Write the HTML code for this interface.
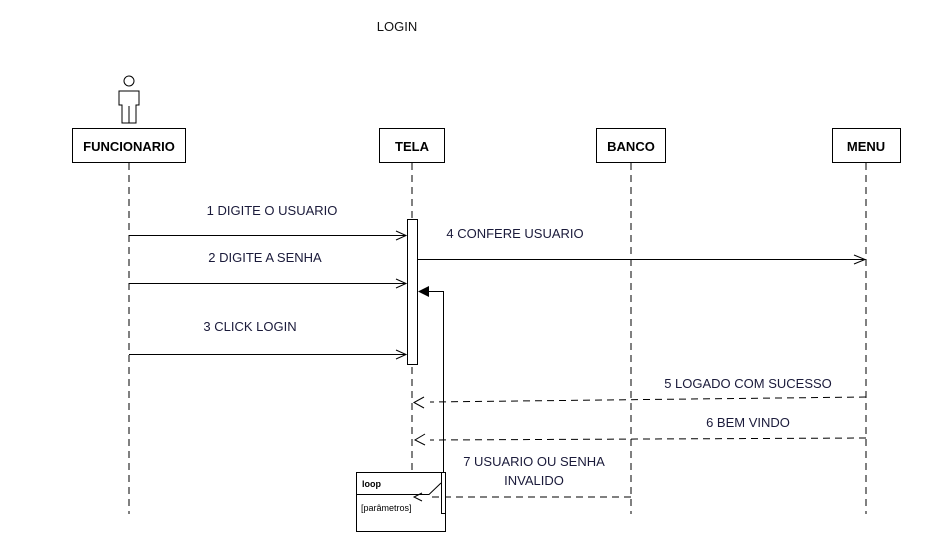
<!DOCTYPE html>
<html><head><meta charset="utf-8"><style>
html,body{margin:0;padding:0;background:#fff;width:947px;height:556px;overflow:hidden}
svg{display:block}
text{font-family:"Liberation Sans",sans-serif;}
</style></head><body>
<svg width="947" height="556" viewBox="0 0 947 556" xmlns="http://www.w3.org/2000/svg">
<text x="397" y="31" font-size="13" text-anchor="middle" fill="#111">LOGIN</text>
<!-- actor -->
<g fill="#fff" stroke="#000" stroke-width="1">
<circle cx="129" cy="81" r="5"/>
<path d="M119 91 h20 v14 h-3 v18 h-14 v-18 h-3 z"/>
<line x1="129" y1="106" x2="129" y2="123"/>
<line x1="122" y1="105" x2="122" y2="106"/>
</g>
<!-- lifelines -->
<g stroke="#000" stroke-width="1" stroke-dasharray="7,5">
<line x1="129" y1="163" x2="129" y2="514"/>
<line x1="412" y1="163" x2="412" y2="472"/>
<line x1="631" y1="163" x2="631" y2="514"/>
<line x1="866" y1="163" x2="866" y2="514"/>
</g>
<!-- boxes -->
<g fill="#fff" stroke="#000" stroke-width="1">
<rect x="72.5" y="128.5" width="113" height="34"/>
<rect x="379.5" y="128.5" width="65" height="34"/>
<rect x="596.5" y="128.5" width="69" height="34"/>
<rect x="832.5" y="128.5" width="68" height="34"/>
</g>
<g font-size="13" font-weight="bold" text-anchor="middle" fill="#000">
<text x="129" y="151">FUNCIONARIO</text>
<text x="412" y="151">TELA</text>
<text x="631" y="151">BANCO</text>
<text x="866" y="151">MENU</text>
</g>
<!-- activation -->
<rect x="407.5" y="219.5" width="10" height="145" fill="#fff" stroke="#000"/>
<!-- sync messages -->
<g stroke="#000" stroke-width="1" fill="none">
<line x1="129" y1="235.5" x2="406" y2="235.5"/><path d="M396 231 L406 235.5 L396 240"/>
<line x1="129" y1="283.5" x2="406" y2="283.5"/><path d="M396 279 L406 283.5 L396 288"/>
<line x1="129" y1="354.5" x2="406" y2="354.5"/><path d="M396 350 L406 354.5 L396 359"/>
<line x1="418" y1="259.5" x2="865" y2="259.5"/><path d="M854 255 L865 259.5 L854 264"/>
<polyline points="443.5,472 443.5,291.5 428,291.5"/>
</g>
<path d="M418 291.5 L429 286 L429 297 Z" fill="#000"/>
<!-- return messages -->
<g stroke="#000" stroke-width="1" fill="none" stroke-dasharray="7,5">
<line x1="866" y1="397" x2="430" y2="402"/>
<line x1="866" y1="438" x2="430" y2="440"/>
<line x1="631" y1="497" x2="430" y2="497"/>
</g>
<g stroke="#000" stroke-width="1" fill="none">
<path d="M424 397 L414 402.5 L424 408"/>
<path d="M425 434 L415 440 L425 445"/>
<path d="M422 493 L414 497 L422 501"/>
</g>
<!-- loop frame -->
<rect x="356.5" y="472.5" width="89" height="59" fill="none" stroke="#000"/>
<path d="M356.5 494.5 H429 L441 483" fill="none" stroke="#000"/>
<rect x="441.5" y="472.5" width="4" height="41" fill="#fff" stroke="#000"/>
<text x="362" y="487" font-size="9" font-weight="bold" fill="#000">loop</text>
<text x="361" y="511" font-size="9" fill="#000">[parâmetros]</text>
<!-- labels -->
<g font-size="13" fill="#1a1a3a" text-anchor="middle">
<text x="272" y="215">1 DIGITE O USUARIO</text>
<text x="265" y="262">2 DIGITE A SENHA</text>
<text x="250" y="331">3 CLICK LOGIN</text>
<text x="515" y="238">4 CONFERE USUARIO</text>
<text x="748" y="388">5 LOGADO COM SUCESSO</text>
<text x="748" y="427">6 BEM VINDO</text>
<text x="534" y="466">7 USUARIO OU SENHA</text>
<text x="534" y="485">INVALIDO</text>
</g>
</svg>
</body></html>
